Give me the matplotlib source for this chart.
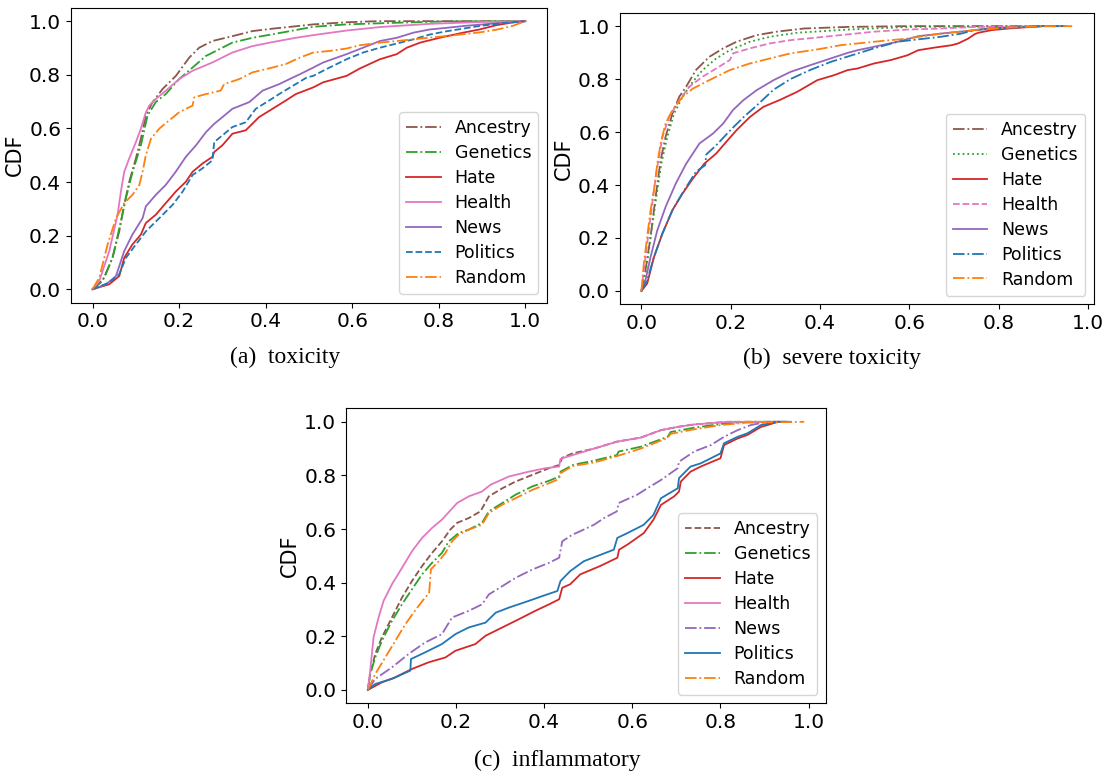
import matplotlib
matplotlib.use("Agg")
import matplotlib.pyplot as plt

# ---------------- data ----------------
SERIES = ["Ancestry", "Genetics", "Hate", "Health", "News", "Politics", "Random"]

# (a) toxicity
TOX_ANCESTRY_X = [0, .023, .046, .0616, .073, .0847, .1, .1116, .1232, .1386, .1617, .1925, .2233, .2463, .277, .323, .3695, .4157, .4696, .51, .587, .66, 1.0]
TOX_ANCESTRY_Y = [0, .031, .117, .216, .315, .401, .488, .562, .648, .698, .747, .796, .864, .901, .926, .944, .963, .972, .981, .988, .996, 1.0, 1.0]
TOX_GENETICS_X = [0, .027, .046, .0654, .077, .0924, .1116, .127, .146, .169, .2, .231, .2617, .2925, .323, .3695, .4157, .4696, .51, .587, .70, .817, 1.0]
TOX_GENETICS_Y = [0, .043, .117, .253, .34, .438, .537, .648, .698, .728, .784, .827, .870, .895, .92, .938, .951, .967, .979, .988, .994, .999, 1.0]
TOX_HATE_X = [0, .0385, .0616, .073, .092, .1116, .123, .146, .169, .192, .2155, .231, .254, .277, .281, .3, .323, .354, .3845, .4157, .4465, .4696, .51, .533, .587, .617, .664, .703, .726, .757, .802, .856, .894, .933, .97, 1.0]
TOX_HATE_Y = [0, .0185, .049, .117, .167, .204, .247, .278, .321, .364, .401, .438, .469, .494, .512, .537, .58, .593, .642, .673, .704, .728, .753, .772, .796, .823, .858, .877, .901, .92, .938, .957, .969, .985, .995, 1.0]
TOX_HEALTH_X = [0, .0154, .0385, .0577, .0654, .0731, .0847, .1001, .1116, .1232, .1309, .1463, .1694, .2002, .231, .277, .323, .3695, .416, .4696, .51, .587, .664, .779, .9, 1.0]
TOX_HEALTH_Y = [0, .031, .142, .278, .364, .438, .488, .549, .599, .660, .685, .710, .741, .784, .815, .846, .883, .907, .922, .938, .948, .965, .978, .99, .997, 1.0]
TOX_NEWS_X = [0, .031, .054, .073, .092, .1155, .123, .146, .169, .192, .2155, .239, .262, .281, .3, .323, .362, .393, .431, .463, .479, .51, .533, .587, .625, .664, .703, .741, .779, .817, .864, .933, 1.0]
TOX_NEWS_Y = [0, .0185, .049, .142, .204, .265, .309, .352, .389, .438, .494, .537, .586, .617, .642, .673, .698, .741, .765, .79, .802, .827, .846, .877, .901, .926, .938, .957, .969, .975, .983, .992, 1.0]
TOX_POLITICS_X = [0, .0385, .0616, .077, .1, .1232, .154, .185, .208, .231, .254, .277, .281, .3, .323, .354, .377, .408, .431, .463, .495, .51, .54, .587, .625, .664, .741, .779, .817, .856, .894, .933, 1.0]
TOX_POLITICS_Y = [0, .025, .056, .117, .167, .216, .265, .315, .364, .426, .451, .481, .549, .574, .605, .623, .673, .704, .728, .759, .79, .796, .821, .858, .883, .901, .932, .950, .962, .972, .982, .99, 1.0]
TOX_RANDOM_X = [0, .0154, .0347, .054, .073, .092, .108, .1155, .123, .135, .154, .177, .2, .231, .235, .262, .296, .304, .339, .3695, .4157, .4465, .479, .51, .548, .587, .617, .664, .703, .741, .787, .833, .894, .933, .97, 1.0]
TOX_RANDOM_Y = [0, .043, .167, .265, .321, .352, .389, .438, .5, .562, .599, .63, .66, .685, .716, .728, .741, .765, .784, .809, .827, .84, .864, .883, .889, .898, .91, .92, .926, .932, .94, .947, .958, .968, .982, 1.0]

# (b) severe toxicity
SEV_ANCESTRY_X = [0, .009, .0204, .0317, .043, .054, .0694, .0845, .1, .122, .152, .183, .213, .258, .303, .364, .462, .6, .95]
SEV_ANCESTRY_Y = [0, .078, .204, .355, .494, .582, .67, .733, .771, .834, .884, .916, .941, .966, .979, .991, .997, 1.0, 1.0]
SEV_GENETICS_X = [0, .0106, .0226, .0333, .0445, .058, .073, .092, .115, .137, .1675, .198, .243, .288, .349, .462, .6, .95]
SEV_GENETICS_Y = [0, .078, .229, .355, .481, .582, .67, .733, .79, .834, .878, .909, .941, .96, .975, .987, .997, 1.0]
SEV_HATE_X = [0, .0128, .028, .047, .0694, .092, .115, .141, .1675, .19, .213, .243, .273, .311, .349, .394, .432, .462, .484, .521, .559, .596, .62, .657, .695, .71, .732, .747, .755, .785, .823, .898, .95]
SEV_HATE_Y = [0, .028, .128, .217, .305, .368, .424, .481, .519, .563, .607, .657, .695, .722, .752, .796, .815, .834, .84, .859, .872, .89, .909, .919, .928, .935, .953, .97, .975, .985, .991, 1.0, 1.0]
SEV_HEALTH_X = [0, .0053, .0128, .0204, .028, .0355, .047, .062, .0845, .107, .137, .1675, .198, .205, .243, .288, .3336, .394, .446, .521, .596, .672, .747, .898, .95]
SEV_HEALTH_Y = [0, .078, .179, .28, .38, .469, .582, .657, .72, .771, .809, .84, .872, .897, .916, .935, .947, .957, .966, .979, .987, .991, .997, 1.0, 1.0]
SEV_NEWS_X = [0, .009, .0204, .0355, .054, .077, .1, .13, .16, .183, .205, .228, .258, .296, .3336, .379, .424, .462, .484, .521, .574, .62, .672, .732, .777, .898, .95]
SEV_NEWS_Y = [0, .04, .128, .229, .317, .406, .48, .557, .594, .632, .683, .72, .758, .796, .827, .853, .878, .899, .909, .922, .941, .962, .972, .982, .991, 1.0, 1.0]
SEV_POLITICS_X = [0, .0128, .028, .047, .0694, .092, .122, .143, .145, .1675, .198, .228, .258, .296, .3336, .379, .424, .462, .521, .574, .62, .672, .717, .747, .785, .898, .95]
SEV_POLITICS_Y = [0, .04, .128, .217, .305, .37, .45, .475, .515, .55, .605, .655, .7, .76, .80, .835, .865, .885, .916, .941, .95, .96, .972, .985, .991, 1.0, 1.0]
SEV_RANDOM_X = [0, .0053, .0128, .0204, .028, .0355, .043, .054, .0694, .092, .115, .152, .198, .243, .288, .3336, .394, .446, .521, .596, .672, .747, .823, .898, .965]
SEV_RANDOM_Y = [0, .103, .204, .305, .38, .481, .557, .632, .683, .733, .764, .796, .834, .859, .878, .897, .912, .928, .941, .953, .972, .985, .995, 1.0, 1.0]

# (c) inflammatory
INF_ANCESTRY_X = [0, .0053, .0167, .0318, .0546, .0773, .1, .123, .1456, .168, .187, .2024, .229, .2555, .2745, .305, .335, .373, .411, .434, .441, .464, .513, .565, .619, .665, .703, .74, .816, .95]
INF_ANCESTRY_Y = [0, .059, .134, .196, .27, .344, .406, .462, .511, .554, .598, .623, .641, .666, .722, .752, .777, .802, .827, .839, .866, .882, .90, .926, .941, .969, .981, .99, 1.0, 1.0]
INF_GENETICS_X = [0, .0053, .0167, .0318, .0546, .0773, .1, .123, .1456, .168, .1835, .206, .229, .259, .2745, .305, .335, .373, .411, .434, .437, .464, .482, .513, .565, .569, .619, .68, .687, .74, .801, .86, .95]
INF_GENETICS_Y = [0, .059, .121, .183, .257, .319, .375, .431, .474, .511, .554, .585, .598, .623, .666, .697, .728, .759, .78, .796, .814, .838, .845, .855, .876, .889, .907, .944, .962, .978, .992, 1.0, 1.0]
INF_HATE_X = [0, .0318, .0622, .1, .138, .176, .1987, .244, .267, .305, .343, .38, .411, .434, .441, .459, .482, .527, .566, .57, .589, .626, .648, .665, .695, .706, .71, .732, .755, .80, .808, .839, .861, .892, .907, .93]
INF_HATE_Y = [0, .028, .047, .078, .103, .121, .146, .171, .202, .233, .264, .295, .319, .338, .381, .394, .431, .462, .493, .523, .542, .585, .635, .69, .722, .74, .777, .814, .833, .864, .913, .938, .951, .981, .988, 1.0]
INF_HEALTH_X = [0, .0053, .0129, .0243, .0356, .0546, .0773, .1, .123, .1456, .168, .2024, .229, .259, .278, .32, .365, .403, .434, .437, .513, .565, .619, .665, .703, .74, .816, .95]
INF_HEALTH_Y = [0, .072, .196, .27, .332, .394, .455, .517, .567, .604, .635, .697, .722, .74, .765, .796, .814, .827, .833, .862, .90, .926, .941, .969, .981, .99, 1.0, 1.0]
INF_NEWS_X = [0, .0167, .0546, .0925, .13, .168, .191, .229, .259, .2745, .305, .335, .373, .411, .434, .441, .464, .482, .513, .536, .565, .569, .611, .634, .665, .703, .706, .74, .778, .808, .839, .869, .907, .95]
INF_NEWS_Y = [0, .041, .084, .134, .177, .208, .27, .295, .319, .356, .387, .418, .449, .474, .493, .554, .579, .592, .616, .641, .666, .697, .728, .752, .783, .827, .851, .889, .913, .944, .969, .988, 1.0, 1.0]
INF_POLITICS_X = [0, .0167, .0546, .0963, .0978, .13, .168, .1987, .229, .267, .29, .32, .365, .396, .43, .437, .459, .49, .52, .558, .566, .589, .626, .648, .665, .703, .706, .732, .755, .80, .808, .839, .861, .892, .93, .96]
INF_POLITICS_Y = [0, .022, .041, .072, .115, .14, .171, .208, .233, .251, .288, .307, .332, .35, .369, .406, .443, .48, .499, .523, .567, .585, .616, .653, .715, .752, .79, .833, .845, .882, .92, .944, .957, .988, 1.0, 1.0]
INF_RANDOM_X = [0, .0167, .0394, .0622, .085, .1077, .13, .139, .143, .161, .176, .191, .206, .229, .259, .2745, .305, .335, .373, .411, .434, .437, .464, .513, .565, .619, .68, .687, .74, .801, .86, .99]
INF_RANDOM_Y = [0, .059, .121, .183, .245, .297, .345, .36, .45, .48, .511, .554, .579, .598, .616, .66, .691, .715, .746, .771, .787, .808, .835, .848, .872, .9, .94, .955, .972, .988, .997, 1.0]

CAPTIONS = ["(a)  toxicity", "(b)  severe toxicity", "(c)  inflammatory"]

# ---------------- styling ----------------
COLORS = {"Ancestry": "#8c564b", "Genetics": "#2ca02c", "Hate": "#d62728",
          "Health": "#e377c2", "News": "#9467bd", "Politics": "#1f77b4",
          "Random": "#ff7f0e"}
STYLES_A = {"Ancestry": "-.", "Genetics": "-.", "Hate": "-", "Health": "-",
            "News": "-", "Politics": "--", "Random": "-."}
STYLES_B = {"Ancestry": "-.", "Genetics": ":", "Hate": "-", "Health": "--",
            "News": "-", "Politics": "-.", "Random": "-."}
STYLES_C = {"Ancestry": "--", "Genetics": "-.", "Hate": "-", "Health": "-",
            "News": "-.", "Politics": "-", "Random": "-."}

panel_a = {"Ancestry": (TOX_ANCESTRY_X, TOX_ANCESTRY_Y), "Genetics": (TOX_GENETICS_X, TOX_GENETICS_Y),
           "Hate": (TOX_HATE_X, TOX_HATE_Y), "Health": (TOX_HEALTH_X, TOX_HEALTH_Y),
           "News": (TOX_NEWS_X, TOX_NEWS_Y), "Politics": (TOX_POLITICS_X, TOX_POLITICS_Y),
           "Random": (TOX_RANDOM_X, TOX_RANDOM_Y)}
panel_b = {"Ancestry": (SEV_ANCESTRY_X, SEV_ANCESTRY_Y), "Genetics": (SEV_GENETICS_X, SEV_GENETICS_Y),
           "Hate": (SEV_HATE_X, SEV_HATE_Y), "Health": (SEV_HEALTH_X, SEV_HEALTH_Y),
           "News": (SEV_NEWS_X, SEV_NEWS_Y), "Politics": (SEV_POLITICS_X, SEV_POLITICS_Y),
           "Random": (SEV_RANDOM_X, SEV_RANDOM_Y)}
panel_c = {"Ancestry": (INF_ANCESTRY_X, INF_ANCESTRY_Y), "Genetics": (INF_GENETICS_X, INF_GENETICS_Y),
           "Hate": (INF_HATE_X, INF_HATE_Y), "Health": (INF_HEALTH_X, INF_HEALTH_Y),
           "News": (INF_NEWS_X, INF_NEWS_Y), "Politics": (INF_POLITICS_X, INF_POLITICS_Y),
           "Random": (INF_RANDOM_X, INF_RANDOM_Y)}

plt.rcParams['font.family'] = ['DejaVu Sans']

fig = plt.figure(figsize=(11.07, 7.76), dpi=100)

rects = [[0.0641, 0.610, 0.430, 0.380],
         [0.560, 0.608, 0.428, 0.3754],
         [0.3126, 0.0937, 0.4336, 0.380]]
panels = [panel_a, panel_b, panel_c]
styles = [STYLES_A, STYLES_B, STYLES_C]

for rect, data, sty in zip(rects, panels, styles):
    ax = fig.add_axes(rect)
    for name in SERIES:
        xs, ys = data[name]
        ax.plot(xs, ys, linestyle=sty[name], color=COLORS[name], lw=1.3, label=name)
    ax.set_ylabel("CDF", fontsize=15, labelpad=3)
    ax.tick_params(labelsize=14.5)
    ax.set_xticks([0.0, 0.2, 0.4, 0.6, 0.8, 1.0])
    ax.set_yticks([0.0, 0.2, 0.4, 0.6, 0.8, 1.0])
    ax.legend(loc="lower right", fontsize=12.5, labelspacing=0.4)

cap_pos = [(0.2575, 0.540), (0.7515, 0.5387), (0.503, 0.0206)]
for (cx, cy), cap in zip(cap_pos, CAPTIONS):
    fig.text(cx, cy, cap, ha="center", va="center", fontsize=17,
             family=["Liberation Serif", "DejaVu Serif"])

fig.savefig("out.png", dpi=100)
